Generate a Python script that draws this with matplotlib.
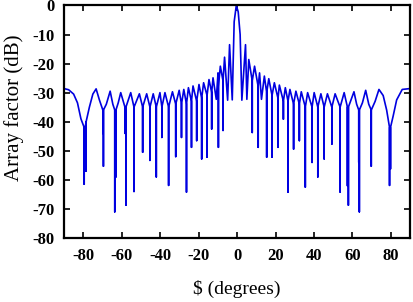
import numpy as np
import matplotlib
matplotlib.use("Agg")
import matplotlib.pyplot as plt

# ── Data ─────────────────────────────────────────────────────────────────────
# lobe maxima
peak_deg = [-90, -87.6, -73.3, -66, -60.5, -55.3, -50.8, -47, -43.6, -40.1,
            -37.5, -33.6, -30.1, -27.7, -25.3, -22.9, -19.8, -17.4, -14.6, -12.5,
            -9.9, -8.7, -6.5, -3.9, -0.4, 4.4, 6.1, 9.1, 11.7, 14.2,
            16.5, 19.4, 22, 25.1, 27.5, 30.6, 33.4, 36.7, 40.1, 43.6,
            47, 51, 55.7, 60.8, 66.9, 73.8, 85.9, 90]
peak_db = [-28.6, -29, -28.7, -29.5, -30, -30, -30.4, -30.4, -30.4, -30,
           -30, -29.7, -29.2, -28.9, -28.3, -27.7, -27.2, -26.6, -25.5, -24.9,
           -23.2, -20.9, -17.8, -13.5, 0, -13.5, -18.6, -20.9, -23.2, -24.3,
           -25.2, -26.6, -27.4, -28.3, -28.9, -29.5, -29.7, -30, -30, -30.4,
           -30.4, -30.4, -30, -29.7, -29.2, -28.9, -28.9, -28.6]

# nulls (some are drawn as two close spikes); rim = level where the spike starts
null_deg = [-79.5, -79.0, -78.5, -69.8, -69.5, -63.6, -63.0, -58.3, -57.8, -53.6,
            -49.1, -45.3, -42.0, -39.1, -35.6, -31.9, -28.9, -26.3, -23.7, -21.0,
            -18.4, -15.6, -13.2, -10.8, -9.7, -7.3, -4.9, -2.5,
            2.5, 5.1, 7.9, 11.0, 12.7, 15.4, 18.2, 21.3, 24.1, 26.5,
            29.4, 32.4, 35.5, 39.0, 42.0, 45.3, 49.3, 53.6, 57.4, 57.9,
            63.3, 63.6, 69.8, 79.3, 79.8]
null_db = [-61.5, -46, -57, -44, -55.3, -71, -59, -44, -68.7, -64,
           -50.5, -53.3, -59, -45.4, -61.9, -52, -45.4, -64.2, -48.8, -46.5,
           -52.8, -52.2, -42.5, -32.3, -48.8, -43, -32.6, -32.5,
           -32.6, -32.3, -43.7, -48.8, -32.3, -52.2, -52.2, -48.8, -39.1, -64.2,
           -49.4, -46.5, -62.5, -54, -59, -52.8, -47.7, -64.2, -62, -68.7,
           -54, -71, -55.3, -61.9, -56.2]
rim_db = [-42, -42, -40, -36, -36, -36, -36, -35, -35, -35,
          -35, -35, -35, -35, -35, -34, -34, -34, -33, -33,
          -32, -31, -30, -32.3, -28, -26, -32.6, -32.5,
          -32.6, -32.3, -26, -28, -32.3, -30, -31, -32, -33, -33,
          -34, -34, -35, -35, -35, -35, -35, -35, -35, -35,
          -36, -36, -36, -42, -42]

# shoulders of the wide lobes and of the main beam
shoulder_deg = [-85, -83, -81.2, -76.8, -75, -71.6, -68, -64.6, -61.8,
                -1.5, 0.6, 1.6,
                62.2, 65.2, 68.5, 71.8, 76, 77.8, 81.2, 83]
shoulder_db = [-30.5, -33.5, -39, -35, -30.5, -32.5, -34, -34, -33.5,
               -5.6, -2.2, -10,
               -34, -33.5, -34, -33, -31, -36, -38, -32.5]

# ── Merge into one trace (each null: rim -> null -> rim at one angle) ───────
pts_deg = list(peak_deg) + list(shoulder_deg)
pts_db = list(peak_db) + list(shoulder_db)
for d, n, r in zip(null_deg, null_db, rim_db):
    pts_deg += [d, d, d]
    pts_db += [r, n, r]
deg = np.array(pts_deg)
db = np.array(pts_db)
order = np.argsort(deg, kind="stable")
deg, db = deg[order], db[order]

# ── Plot ─────────────────────────────────────────────────────────────────────
plt.rcParams["font.family"] = ["Liberation Serif", "DejaVu Serif"]
plt.rcParams["axes.unicode_minus"] = False

fig = plt.figure(figsize=(4.14, 3.02), dpi=100)
ax = fig.add_axes([0.1546, 0.212, 0.836, 0.770])

ax.plot(deg, db, color="#0000E0", linewidth=1.2)

ax.set_xlim(-90, 90)
ax.set_ylim(-80, 0)
ax.set_xticks(np.arange(-80, 81, 20))
ax.set_yticks(np.arange(-80, 1, 10))
ax.tick_params(direction="in", top=True, right=True, length=4, width=1.2,
               labelsize=12, pad=7)
for lab in ax.get_xticklabels() + ax.get_yticklabels():
    lab.set_fontweight("bold")
for s in ax.spines.values():
    s.set_linewidth(1.6)

ax.set_xlabel("$ (degrees)", fontsize=14, labelpad=12)
ax.set_ylabel("Array factor (dB)", fontsize=15)
ax.yaxis.set_label_coords(-0.115, 0.56)

fig.savefig("out.png", dpi=100)
